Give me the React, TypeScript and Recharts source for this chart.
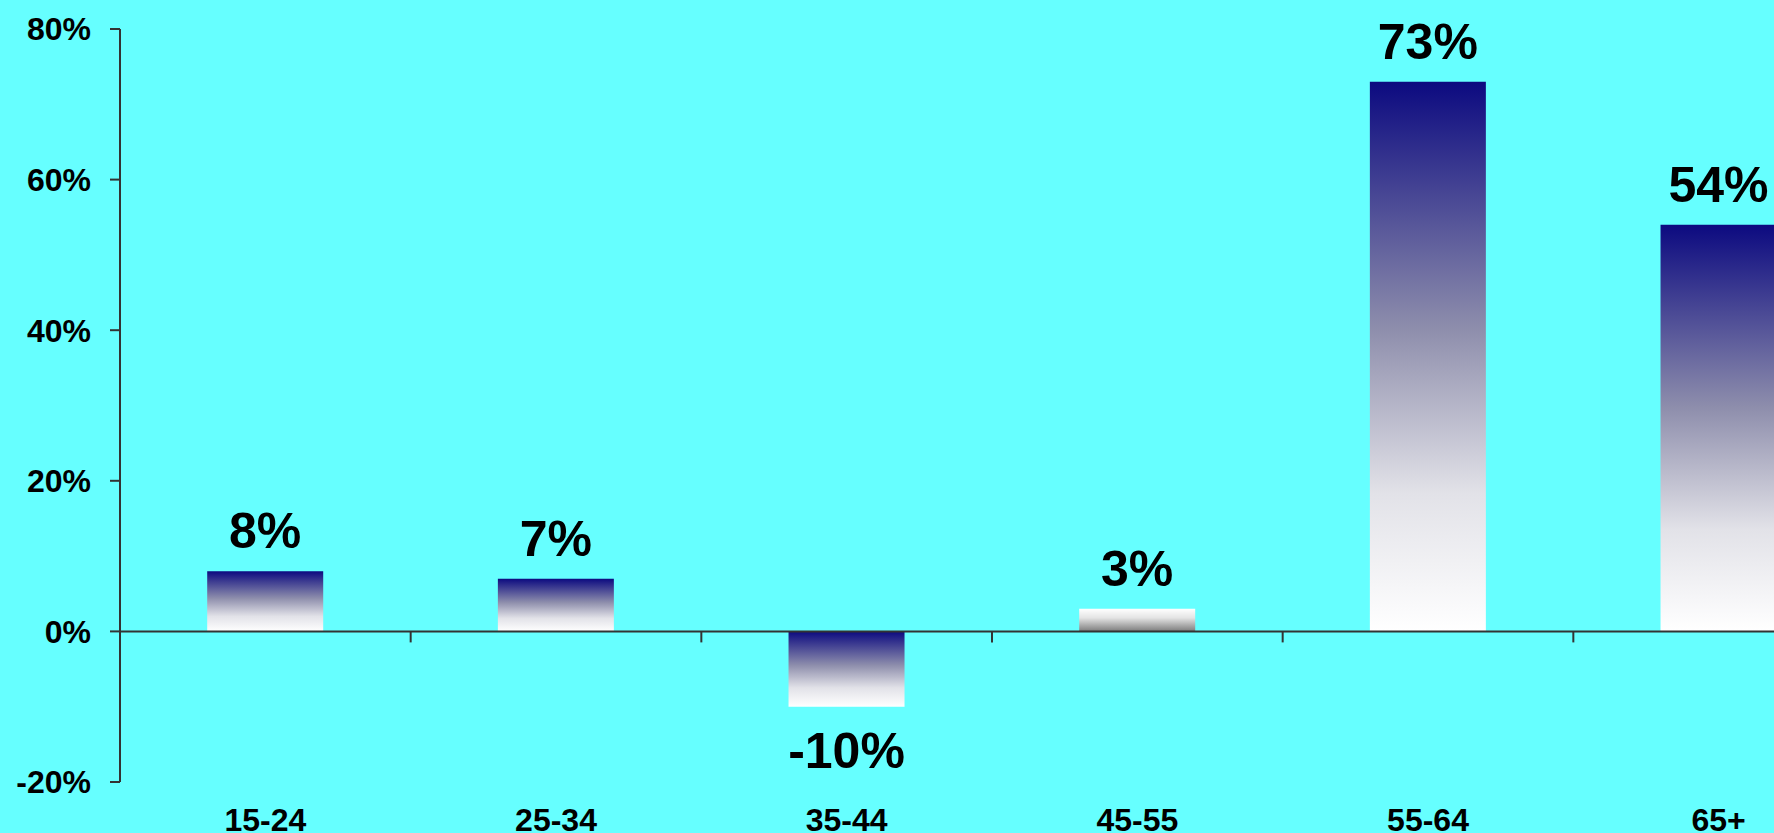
import React from 'react';
import {
  BarChart,
  Bar,
  XAxis,
  YAxis,
  Cell,
  LabelList,
  ReferenceLine,
} from 'recharts';

const categories = ['15-24', '25-34', '35-44', '45-55', '55-64', '65+'];
const growth = [8, 7, -10, 3, 73, 54];
const yTicks = [-20, 0, 20, 40, 60, 80];

const data = categories.map((name, i) => ({ name, value: growth[i] }));

const FONT = '"Liberation Sans", Arial, Helvetica, sans-serif';

// layout
const CHART_W = 1874;
const CHART_H = 845;
const MARGIN = { top: 29, right: 10, left: 0, bottom: 0 };
const Y_AXIS_W = 120;
const X_AXIS_H = 63;
const PLOT_H = CHART_H - MARGIN.top - MARGIN.bottom - X_AXIS_H;
const PLOT_W = CHART_W - MARGIN.left - MARGIN.right - Y_AXIS_W;
const BAND = PLOT_W / categories.length;
const Y_MIN = yTicks[0];
const Y_MAX = yTicks[yTicks.length - 1];
const ZERO_Y = MARGIN.top + (PLOT_H * Y_MAX) / (Y_MAX - Y_MIN);

// category label at bottom + tick mark on the zero line at band edge
const CategoryTick = (props: any) => {
  const { x, y, payload } = props;
  const edge = x + BAND / 2;
  return (
    <g>
      <line x1={edge} x2={edge} y1={ZERO_Y} y2={ZERO_Y + 11} stroke="#333" strokeWidth={2} />
      <text
        x={x}
        y={y + 49}
        textAnchor="middle"
        fill="#000"
        fontSize={32}
        fontWeight={700}
        fontFamily={FONT}
      >
        {payload.value}
      </text>
    </g>
  );
};

const ValueLabel = (props: any) => {
  const { x, y, width, height, value } = props;
  const top = Math.min(y, y + height);
  const bottom = Math.max(y, y + height);
  const ty = value >= 0 ? top - 23 : bottom + 61;
  return (
    <text
      x={x + width / 2}
      y={ty}
      textAnchor="middle"
      fill="#000"
      fontSize={50}
      fontWeight={700}
      fontFamily={FONT}
    >
      {value}%
    </text>
  );
};

export default function App() {
  return (
    <div
      style={{
        position: 'fixed',
        left: 0,
        top: 0,
        width: 1774,
        height: 833,
        overflow: 'hidden',
        background: '#66ffff',
      }}
    >
      <BarChart
        width={CHART_W}
        height={CHART_H}
        data={data}
        margin={MARGIN}
        barCategoryGap="30%"
      >
        <defs>
          <linearGradient id="navyFade" x1="0" y1="0" x2="0" y2="1">
            <stop offset="0%" stopColor="#0c0a80" />
            <stop offset="45%" stopColor="#8e8eac" />
            <stop offset="75%" stopColor="#e2e2e8" />
            <stop offset="100%" stopColor="#ffffff" />
          </linearGradient>
          <linearGradient id="grayFade" x1="0" y1="0" x2="0" y2="1">
            <stop offset="0%" stopColor="#ffffff" />
            <stop offset="40%" stopColor="#e4e4e4" />
            <stop offset="100%" stopColor="#7c7c7c" />
          </linearGradient>
        </defs>
        <XAxis
          dataKey="name"
          height={X_AXIS_H}
          axisLine={false}
          tickLine={false}
          tickSize={0}
          tickMargin={0}
          interval={0}
          tick={<CategoryTick />}
        />
        <YAxis
          width={Y_AXIS_W}
          domain={[Y_MIN, Y_MAX]}
          ticks={yTicks}
          tickFormatter={(v: number) => `${v}%`}
          axisLine={{ stroke: '#333', strokeWidth: 2 }}
          tickLine={{ stroke: '#333', strokeWidth: 2 }}
          tickSize={10}
          tickMargin={19}
          tick={{ fill: '#000', fontSize: 32, fontWeight: 700, fontFamily: FONT }}
        />
        <ReferenceLine y={0} stroke="#333" strokeWidth={2} />
        <Bar dataKey="value" isAnimationActive={false}>
          {data.map((d, i) => (
            <Cell key={d.name} fill={d.name === '45-55' ? 'url(#grayFade)' : 'url(#navyFade)'} />
          ))}
          <LabelList dataKey="value" content={<ValueLabel />} />
        </Bar>
      </BarChart>
    </div>
  );
}
